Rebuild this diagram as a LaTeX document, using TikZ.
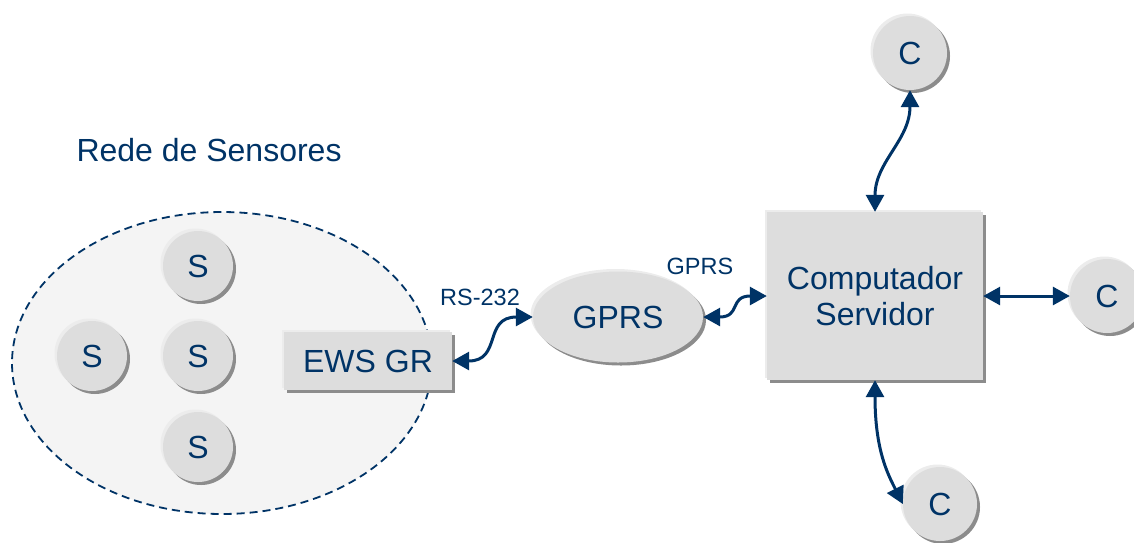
\documentclass[tikz,border=0pt]{standalone}
\usepackage{fontspec}
\setmainfont{Liberation Sans}
\usetikzlibrary{arrows.meta,shapes.geometric,shadows}
\definecolor{navy}{RGB}{0,51,102}
\definecolor{boxfill}{RGB}{221,221,221}
\definecolor{shade}{RGB}{140,140,140}
\definecolor{hilite}{RGB}{236,236,236}
\definecolor{netfill}{RGB}{244,244,244}
\begin{document}
\begin{tikzpicture}[x=1pt,y=-1pt,
  big/.style={font=\fontsize{32}{36}\selectfont, text=navy},
  small/.style={font=\fontsize{23.5}{27}\selectfont, text=navy},
  solid3d/.style={fill=boxfill,
     general shadow={fill=hilite, shadow xshift=-2.5pt, shadow yshift=2.5pt},
     general shadow={fill=shade, shadow xshift=3pt, shadow yshift=-3pt}},
  sens/.style={circle, solid3d, minimum size=70pt, inner sep=0pt, big},
  cli/.style={circle, solid3d, minimum size=74pt, inner sep=0pt, big},
  boxnode/.style={rectangle, solid3d, inner sep=0pt, big, align=center},
  link/.style={draw=navy, line width=3pt, {Triangle[length=17pt 0 0,width=18pt 0 0]}-{Triangle[length=17pt 0 0,width=18pt 0 0]}}
]
\useasboundingbox (0,0) rectangle (1134,542);
% sensor network area
\node[ellipse, draw=navy, fill=netfill, line width=1.8pt, dash pattern=on 8pt off 5pt,
      minimum width=420pt, minimum height=302pt, inner sep=0pt] (net) at (222,363) {};
\node[big, anchor=base west] (title) at (73,161) {Rede de Sensores};
% sensors
\node[sens] (s1) at (198,266) {S};
\node[sens] (s2) at (92,356) {S};
\node[sens] (s3) at (198,356) {S};
\node[sens] (s4) at (198,447) {S};
% gateway
\node[boxnode, minimum width=168pt, minimum height=58pt] (ews) at (368,361) {EWS GR};
% GPRS cloud
\node[ellipse, solid3d, minimum width=170pt, minimum height=91pt, inner sep=0pt, big] (gprs) at (618,317) {GPRS};
% server
\node[boxnode, minimum width=216pt, minimum height=168pt] (srv) at (875,296) {Computador\\Servidor};
% clients
\node[cli] (ctop) at (910,53) {C};
\node[cli] (cright) at (1107,296) {C};
\node[cli] (cbot) at (940,504) {C};
% labels
\node[small] (lrs) at (480,297) {RS-232};
\node[small] (lgprs) at (700,266) {GPRS};
% connectors
\draw[link] (ews.east) .. controls +(50,0) and +(-50,0) .. (gprs.west);
\draw[link] (gprs.east) .. controls +(38,0) and +(-38,0) .. (srv.west);
\draw[link] (ctop.south) .. controls +(0,50) and +(0,-50) .. (srv.north);
\draw[link] (srv.east) -- (cright.west);
\draw[link] (srv.south) .. controls +(0,70) and +(-15,-30) .. (cbot.west);
\end{tikzpicture}
\end{document}
